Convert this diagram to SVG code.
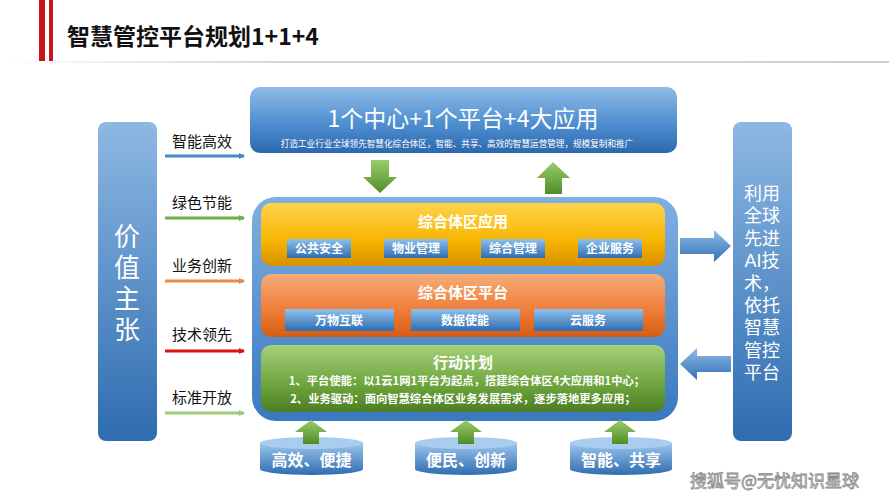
<svg xmlns="http://www.w3.org/2000/svg" width="889" height="500" viewBox="0 0 889 500">
<defs>
<linearGradient id="blueV" x1="0" y1="0" x2="0" y2="1"><stop offset="0" stop-color="#8db8e3"/><stop offset="1" stop-color="#2e6cb0"/></linearGradient>
<linearGradient id="blueTop" x1="0" y1="0" x2="0" y2="1"><stop offset="0" stop-color="#8fbbe6"/><stop offset="0.55" stop-color="#4f8fd0"/><stop offset="1" stop-color="#2c68ad"/></linearGradient>
<linearGradient id="bigBlue" x1="0" y1="0" x2="0" y2="1"><stop offset="0" stop-color="#7fb0e0"/><stop offset="1" stop-color="#3a78c0"/></linearGradient>
<linearGradient id="yellow" x1="0" y1="0" x2="0" y2="1"><stop offset="0" stop-color="#ffd34d"/><stop offset="0.6" stop-color="#f7b500"/><stop offset="1" stop-color="#d99000"/></linearGradient>
<linearGradient id="orange" x1="0" y1="0" x2="0" y2="1"><stop offset="0" stop-color="#f6ad7a"/><stop offset="0.6" stop-color="#ee7a35"/><stop offset="1" stop-color="#d65c12"/></linearGradient>
<linearGradient id="green" x1="0" y1="0" x2="0" y2="1"><stop offset="0" stop-color="#a6d07a"/><stop offset="0.6" stop-color="#6da43c"/><stop offset="1" stop-color="#4c7d25"/></linearGradient>
<linearGradient id="btn" x1="0" y1="0" x2="0" y2="1"><stop offset="0" stop-color="#8ec0ea"/><stop offset="1" stop-color="#2f6db2"/></linearGradient>
<linearGradient id="garrow" x1="0" y1="0" x2="0" y2="1"><stop offset="0" stop-color="#9bcc6a"/><stop offset="1" stop-color="#4f8d28"/></linearGradient>
<linearGradient id="barrow" x1="0" y1="0" x2="0" y2="1"><stop offset="0" stop-color="#8ebde8"/><stop offset="1" stop-color="#3470b5"/></linearGradient>
<linearGradient id="cyl" x1="0" y1="0" x2="0" y2="1"><stop offset="0" stop-color="#9cc6ec"/><stop offset="1" stop-color="#2f6cb1"/></linearGradient>
<linearGradient id="rule" x1="0" y1="0" x2="1" y2="0"><stop offset="0" stop-color="#ffffff"/><stop offset="0.3" stop-color="#d8d8d8"/><stop offset="1" stop-color="#cfcfcf"/></linearGradient>
<marker id="ahBlue" markerWidth="6" markerHeight="6" refX="5" refY="3" orient="auto" markerUnits="userSpaceOnUse"><path d="M0,0 L6,3 L0,6 Z" fill="#4a86c5"/></marker>
<marker id="ahGreen" markerWidth="6" markerHeight="6" refX="5" refY="3" orient="auto" markerUnits="userSpaceOnUse"><path d="M0,0 L6,3 L0,6 Z" fill="#6fae3f"/></marker>
<marker id="ahOrange" markerWidth="6" markerHeight="6" refX="5" refY="3" orient="auto" markerUnits="userSpaceOnUse"><path d="M0,0 L6,3 L0,6 Z" fill="#ee8a45"/></marker>
<marker id="ahRed" markerWidth="6" markerHeight="6" refX="5" refY="3" orient="auto" markerUnits="userSpaceOnUse"><path d="M0,0 L6,3 L0,6 Z" fill="#dd1111"/></marker>
<marker id="ahLGreen" markerWidth="6" markerHeight="6" refX="5" refY="3" orient="auto" markerUnits="userSpaceOnUse"><path d="M0,0 L6,3 L0,6 Z" fill="#9ccc7a"/></marker>
</defs>
<style>
text{font-family:"Noto Sans CJK SC","Liberation Sans",sans-serif}
.w{fill:#fff}
.b{font-weight:bold}
.lbl{font-size:15px;fill:#111}
.btxt{font-size:12px;font-weight:bold;fill:#fff;text-anchor:middle}
.btn{fill:url(#btn)}
.side{fill:url(#blueV)}
text.col{font-family:"Liberation Sans","Noto Sans CJK SC",sans-serif;fill:#fff;text-anchor:middle}
</style>
<rect width="889" height="500" fill="#ffffff"/>
<g id="header">
<rect x="39" y="0" width="6" height="61" fill="#c8161d"/>
<rect x="49" y="0" width="4" height="61" fill="#c8161d"/>
<rect x="0" y="61" width="889" height="2" fill="url(#rule)"/>
<text x="67" y="45" font-size="23" font-weight="bold" fill="#111">智慧管控平台规划1+1+4</text>
</g>
<g id="top-box">
<rect x="250" y="87" width="427" height="66" rx="10" fill="url(#blueTop)"/>
<text x="463" y="127" font-size="23" class="w" text-anchor="middle">1个中心+1个平台+4大应用</text>
<text x="457" y="147" font-size="8.6" class="w" text-anchor="middle">打造工业行业全球领先智慧化综合体区，智能、共享、高效的智慧运营管理，规模复制和推广</text>
</g>
<g id="main-box">
<rect x="252" y="197" width="426" height="224" rx="24" fill="url(#bigBlue)"/>
</g>
<g id="app-layer">
<rect x="261" y="203" width="404" height="63" rx="10" fill="url(#yellow)"/>
<text x="463" y="227" font-size="15" class="w b" text-anchor="middle">综合体区应用</text>
<rect class="btn" x="287" y="239" width="64" height="19"/><text class="btxt" x="319" y="253">公共安全</text>
<rect class="btn" x="384" y="239" width="64" height="19"/><text class="btxt" x="416" y="253">物业管理</text>
<rect class="btn" x="481" y="239" width="64" height="19"/><text class="btxt" x="513" y="253">综合管理</text>
<rect class="btn" x="578" y="239" width="64" height="19"/><text class="btxt" x="610" y="253">企业服务</text>
</g>
<g id="platform-layer">
<rect x="261" y="274" width="404" height="63" rx="10" fill="url(#orange)"/>
<text x="463" y="298" font-size="15" class="w b" text-anchor="middle">综合体区平台</text>
<rect class="btn" x="285" y="309" width="109" height="22"/><text class="btxt" x="339" y="325" font-size="13">万物互联</text>
<rect class="btn" x="411" y="309" width="109" height="22"/><text class="btxt" x="465" y="325" font-size="13">数据使能</text>
<rect class="btn" x="534" y="309" width="109" height="22"/><text class="btxt" x="588" y="325" font-size="13">云服务</text>
</g>
<g id="action-layer">
<rect x="261" y="345" width="404" height="67" rx="10" fill="url(#green)"/>
<text x="463" y="368" font-size="15" class="w b" text-anchor="middle">行动计划</text>
<text x="467" y="385" font-size="11.3" class="w b" text-anchor="middle">1、平台使能：以1云1网1平台为起点，搭建综合体区4大应用和1中心；</text>
<text x="463" y="403" font-size="11.3" class="w b" text-anchor="middle">2、业务驱动：面向智慧综合体区业务发展需求，逐步落地更多应用；</text>
</g>
<g id="value-column">
<rect class="side" x="98" y="122" width="59" height="319" rx="8"/>
<text class="col" font-size="26"><tspan x="127" y="246">价</tspan><tspan x="127" y="277">值</tspan><tspan x="127" y="308">主</tspan><tspan x="127" y="339">张</tspan></text>
</g>
<g id="value-labels">
<text class="lbl" x="172" y="147">智能高效</text>
<text class="lbl" x="172" y="208">绿色节能</text>
<text class="lbl" x="172" y="271">业务创新</text>
<text class="lbl" x="172" y="340">技术领先</text>
<text class="lbl" x="172" y="403">标准开放</text>
</g>
<g id="ai-column">
<rect class="side" x="733" y="122" width="59" height="319" rx="8"/>
<text class="col" font-size="18"><tspan x="762" y="200">利用</tspan><tspan x="762" y="222">全球</tspan><tspan x="762" y="245">先进</tspan><tspan x="762" y="267">AI技</tspan><tspan x="762" y="290">术，</tspan><tspan x="762" y="312">依托</tspan><tspan x="762" y="334">智慧</tspan><tspan x="762" y="357">管控</tspan><tspan x="762" y="379">平台</tspan></text>
</g>
<g id="cyl-1">
<path d="M260,443 L260,469 A51.5,6 0 0 0 363,469 L363,443 Z" fill="url(#cyl)"/>
<ellipse cx="311.5" cy="443" rx="51.5" ry="6" fill="#a9cdee"/>
<text x="311.5" y="466" font-size="16" class="w b" text-anchor="middle">高效、便捷</text>
</g>
<g id="cyl-2">
<path d="M415,443 L415,469 A51,6 0 0 0 517,469 L517,443 Z" fill="url(#cyl)"/>
<ellipse cx="466" cy="443" rx="51" ry="6" fill="#a9cdee"/>
<text x="466" y="466" font-size="16" class="w b" text-anchor="middle">便民、创新</text>
</g>
<g id="cyl-3">
<path d="M570,443 L570,469 A51,6 0 0 0 672,469 L672,443 Z" fill="url(#cyl)"/>
<ellipse cx="621" cy="443" rx="51" ry="6" fill="#a9cdee"/>
<text x="621" y="466" font-size="16" class="w b" text-anchor="middle">智能、共享</text>
</g>
<g id="connectors">
<line x1="165" y1="156" x2="244" y2="156" stroke="#4a86c5" stroke-width="3" marker-end="url(#ahBlue)"/>
<line x1="165" y1="218" x2="244" y2="218" stroke="#6fae3f" stroke-width="3" marker-end="url(#ahGreen)"/>
<line x1="165" y1="281" x2="244" y2="281" stroke="#ee8a45" stroke-width="3" marker-end="url(#ahOrange)"/>
<line x1="165" y1="351" x2="244" y2="351" stroke="#dd1111" stroke-width="3" marker-end="url(#ahRed)"/>
<line x1="165" y1="413" x2="244" y2="413" stroke="#9ccc7a" stroke-width="3" marker-end="url(#ahLGreen)"/>
<path d="M371,160 L389,160 L389,177 L397,177 L380,193 L363,177 L371,177 Z" fill="url(#garrow)"/>
<path d="M553,162 L570,178 L562,178 L562,194 L545,194 L545,178 L537,178 Z" fill="url(#garrow)"/>
<path d="M680,238 L714,238 L714,230 L731,246 L714,262 L714,254 L680,254 Z" fill="url(#barrow)"/>
<path d="M731,356 L697,356 L697,348 L680,364 L697,380 L697,372 L731,372 Z" fill="url(#barrow)"/>
<path d="M311,420 L327,432 L319,432 L319,444 L303,444 L303,432 L295,432 Z" fill="url(#garrow)"/>
<path d="M466,420 L482,432 L474,432 L474,444 L458,444 L458,432 L450,432 Z" fill="url(#garrow)"/>
<path d="M620,420 L636,432 L628,432 L628,444 L612,444 L612,432 L604,432 Z" fill="url(#garrow)"/>
</g>
<text x="690" y="487" font-size="17" fill="#f4f4f4" stroke="#8a8a8a" stroke-width="0.8">搜狐号@无忧知识星球</text>
</svg>
